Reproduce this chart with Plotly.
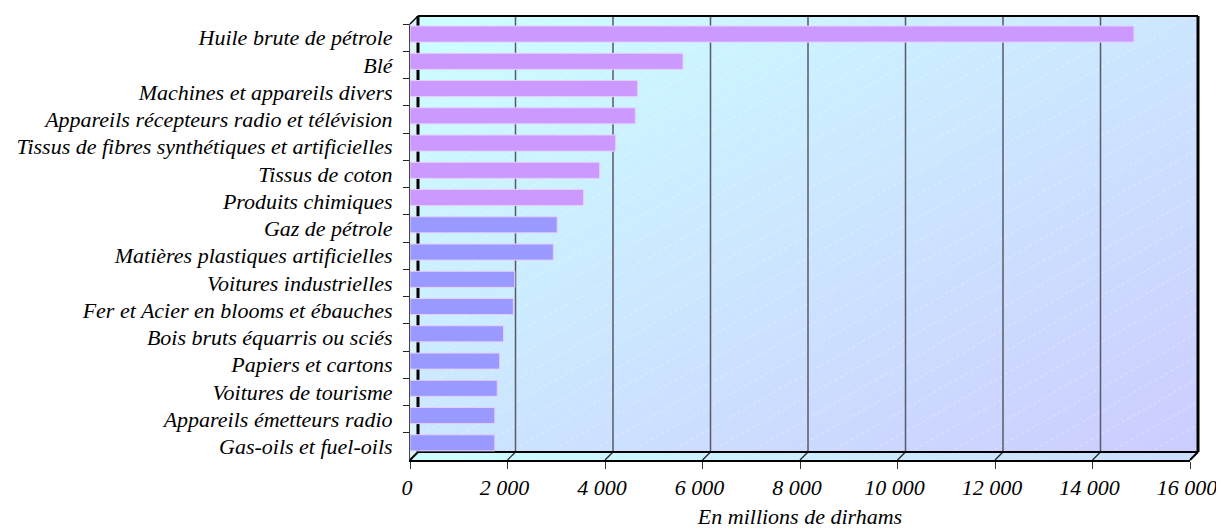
import base64
import plotly.graph_objects as go

# ---- data ----
categories = [
    "Huile brute de pétrole",
    "Blé",
    "Machines et appareils divers",
    "Appareils récepteurs radio et télévision",
    "Tissus de fibres synthétiques et artificielles",
    "Tissus de coton",
    "Produits chimiques",
    "Gaz de pétrole",
    "Matières plastiques artificielles",
    "Voitures industrielles",
    "Fer et Acier en blooms et ébauches",
    "Bois bruts équarris ou sciés",
    "Papiers et cartons",
    "Voitures de tourisme",
    "Appareils émetteurs radio",
    "Gas-oils et fuel-oils",
]
values = [14850, 5600, 4670, 4620, 4220, 3890, 3560, 3020, 2940,
          2150, 2120, 1920, 1840, 1790, 1740, 1740]
group = ["a"] * 7 + ["b"] * 9
x_tickvals = [0, 2000, 4000, 6000, 8000, 10000, 12000, 14000, 16000]
x_ticktext = ["0", "2 000", "4 000", "6 000", "8 000", "10 000", "12 000", "14 000", "16 000"]
x_title = "En millions de dirhams"

# ---- geometry / style ----
# the page body adds an 8px margin, so the figure is 8px smaller than the window
W, H = 1216, 521
L, R, T, B = 402, 34, 16, 69
PW, PH = W - L - R, H - T - B          # 780 x 436
D = 8                                   # 3D depth offset (px)
dx, dy = D / PW, D / PH
font_family = "Liberation Serif"
FS = 22
group_colors = {"a": "#CC99FF", "b": "#9999FF"}
bar_colors = [group_colors[g] for g in group]

# background box (back wall, floor, left wall) as an SVG image
BW, BH = PW + D, PH + D
lines = []
for c in range(-780, BW + 40, 40):
    lines.append(f'<line x1="{c}" y1="{PH}" x2="{c + 760}" y2="0"/>')
svg = f'''<svg xmlns="http://www.w3.org/2000/svg" width="{BW}" height="{BH}" viewBox="0 0 {BW} {BH}" preserveAspectRatio="none">
<defs>
<linearGradient id="g" x1="0" y1="0" x2="1" y2="1">
<stop offset="0" stop-color="#CCFFFF"/><stop offset="0.5" stop-color="#CCE6FF"/><stop offset="1" stop-color="#CCCCFF"/>
</linearGradient>
<linearGradient id="f" x1="0" y1="0" x2="1" y2="0">
<stop offset="0" stop-color="#CCFFFF"/><stop offset="1" stop-color="#CCDDFF"/>
</linearGradient>
<clipPath id="c"><rect x="{D}" y="0" width="{PW}" height="{PH}"/></clipPath>
</defs>
<rect x="{D}" y="0" width="{PW}" height="{PH}" fill="url(#g)"/>
<g clip-path="url(#c)" stroke="#FFFFFF" stroke-opacity="0.5" stroke-width="0.8" stroke-dasharray="3 3">{''.join(lines)}</g>
<polygon points="0,{BH} {PW},{BH} {BW},{PH} {D},{PH}" fill="url(#f)"/>
<polygon points="0,{D} {D},0 {D},{PH} 0,{BH}" fill="#DDF2F6"/>
</svg>'''
src = "data:image/svg+xml;base64," + base64.b64encode(svg.encode()).decode()

fig = go.Figure()
fig.add_trace(go.Bar(
    y=categories, x=values, orientation="h",
    marker=dict(color=bar_colors, line=dict(color="#E6D0FF", width=1)),
    width=0.59, offset=-0.425, hoverinfo="x+y",
))

shapes = []
for v in x_tickvals[1:-1]:
    # back wall grid lines
    shapes.append(dict(type="line", xref="x", yref="paper", xsizemode="pixel", xanchor=v,
                       x0=D, x1=D, y0=dy, y1=1 + dy, line=dict(color="#5A5A66", width=1.5),
                       layer="below"))
    # floor diagonals
    shapes.append(dict(type="line", xref="x", yref="paper", xsizemode="pixel", xanchor=v,
                       x0=0, x1=D, y0=0, y1=dy, line=dict(color="#222", width=1.2),
                       layer="below"))
shapes += [
    dict(type="line", xref="paper", yref="paper", x0=dx, x1=1 + dx, y0=1 + dy, y1=1 + dy,
         line=dict(color="black", width=2), layer="below"),
    dict(type="line", xref="paper", yref="paper", x0=1 + dx, x1=1 + dx, y0=dy, y1=1 + dy,
         line=dict(color="black", width=3), layer="below"),
    dict(type="line", xref="paper", yref="paper", x0=dx, x1=1 + dx, y0=dy, y1=dy,
         line=dict(color="black", width=2), layer="below"),
    dict(type="line", xref="paper", yref="paper", x0=dx, x1=dx, y0=dy, y1=1 + dy,
         line=dict(color="black", width=3), layer="below"),
    dict(type="line", xref="paper", yref="paper", x0=0, x1=dx, y0=1, y1=1 + dy,
         line=dict(color="black", width=1.5), layer="below"),
    dict(type="line", xref="paper", yref="paper", x0=1, x1=1 + dx, y0=0, y1=dy,
         line=dict(color="black", width=2), layer="below"),
    dict(type="line", xref="paper", yref="paper", x0=0, x1=dx, y0=0, y1=dy,
         line=dict(color="black", width=2), layer="below"),
]

fig.update_layout(
    width=W, height=H,
    margin=dict(l=L, r=R, t=T, b=B, pad=0, autoexpand=False),
    paper_bgcolor="white", plot_bgcolor="rgba(0,0,0,0)",
    showlegend=False,
    font=dict(family=font_family, size=FS, color="black", style="italic"),
    images=[dict(source=src, xref="paper", yref="paper", x=0, y=1 + dy,
                 sizex=BW / PW, sizey=BH / PH, xanchor="left", yanchor="top",
                 sizing="stretch", layer="below")],
    shapes=shapes,
    xaxis=dict(range=[0, 16000], tickvals=x_tickvals, ticktext=x_ticktext, automargin=False,
               showgrid=False, zeroline=False, showline=True, linecolor="black", linewidth=2,
               ticks="outside", ticklen=7, tickcolor="#333", tickwidth=1,
               ticklabelshift=-3,
               tickfont=dict(family=font_family, size=FS, style="italic"),
               title=dict(text=x_title, standoff=18,
                          font=dict(family=font_family, size=FS, style="italic"))),
    yaxis=dict(type="category", categoryorder="array", categoryarray=categories,
               autorange="reversed", tickson="boundaries", automargin=False,
               showgrid=False, zeroline=False, showline=True, linecolor="#444", linewidth=1,
               ticks="outside", ticklen=6, tickcolor="#222", tickwidth=1,
               ticklabelstandoff=12,
               tickfont=dict(family=font_family, size=FS, style="italic")),
)

fig.write_html("out.html")
